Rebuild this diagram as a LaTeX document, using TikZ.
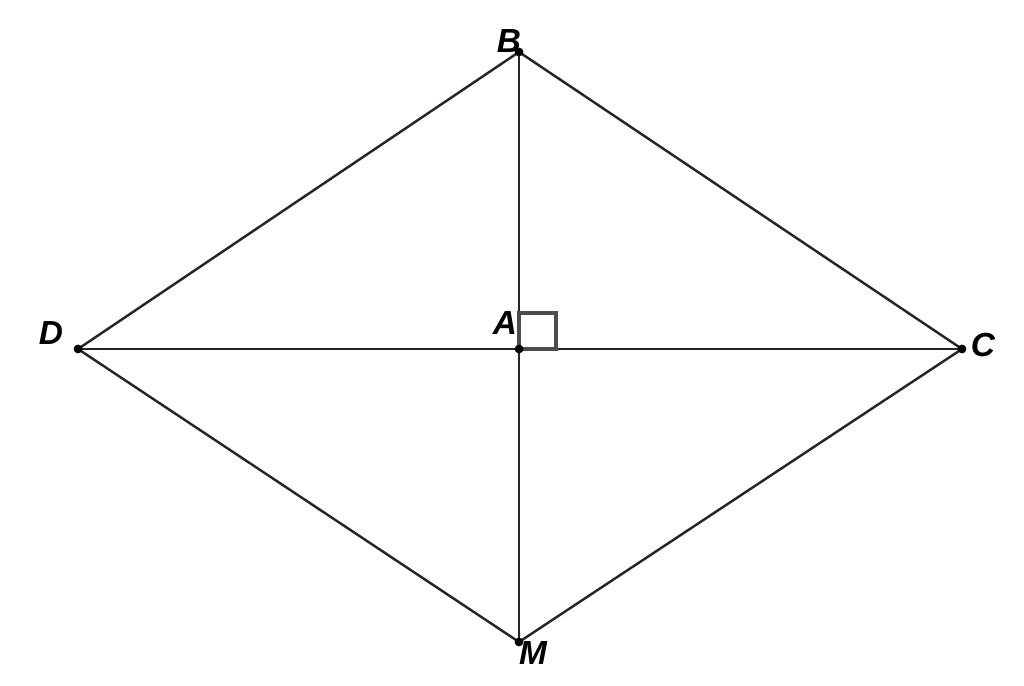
\documentclass[tikz,border=0pt]{standalone}
\usepackage{fontspec}
\setmainfont{Liberation Sans}
\usepackage{tikz}
\usetikzlibrary{calc,positioning}

\begin{document}
\begin{tikzpicture}[x=0.02cm, y=0.02cm,
    edge/.style={draw=black!85, line width=1.4pt},
    pt/.style={circle, fill=black, inner sep=0pt, minimum size=5pt},
    lbl/.style={font=\fontsize{19}{22}\selectfont\bfseries\itshape, inner sep=0pt},
    rightangle/.style={draw=black!70, line width=1.8pt}]
    \useasboundingbox (0,0) rectangle (1024,686);

    \coordinate (B) at (519,634);
    \coordinate (A) at (519,337);
    \coordinate (D) at (78,337);
    \coordinate (C) at (962,337);
    \coordinate (M) at (519,44);

    \draw[edge] (B) -- (C) -- (M) -- (D) -- cycle;
    \draw[edge] (B) -- (M);
    \draw[edge] (D) -- (C);
    \draw[rightangle] (A) rectangle ++(37,36);

    \foreach \p in {A,B,C,D,M} \node[pt] at (\p) {};

    \node (labB) [lbl] at (509,645) {B};
    \node (labA) [lbl] at (505,363) {A};
    \node (labD) [lbl] at (51,353) {D};
    \node (labC) [lbl] at (983,341) {C};
    \node (labM) [lbl] at (533,33) {M};
\end{tikzpicture}
\end{document}
